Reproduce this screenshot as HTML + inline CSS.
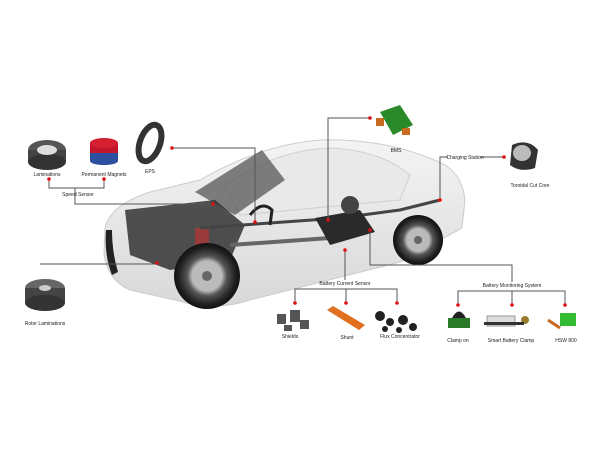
<!DOCTYPE html>
<html><head><style>body{margin:0;background:#fff}svg{display:block}text{font-family:"Liberation Sans",sans-serif;font-size:5px;fill:#222;text-anchor:middle}</style></head><body>
<svg width="600" height="450" viewBox="0 0 600 450">
<defs>
<linearGradient id="body" x1="0" y1="0" x2="0" y2="1"><stop offset="0" stop-color="#f4f4f4"/><stop offset="1" stop-color="#d8d8d8"/></linearGradient>
<radialGradient id="wh"><stop offset="0.45" stop-color="#bbb"/><stop offset="0.6" stop-color="#555"/><stop offset="0.85" stop-color="#222"/><stop offset="1" stop-color="#111"/></radialGradient>
</defs>
<!-- car body -->
<path d="M105,228 Q110,205 150,192 L200,180 Q260,145 320,140 Q390,138 445,165 Q462,175 465,200 L462,228 L440,240 Q420,255 400,262 L250,300 Q215,312 175,300 L130,290 Q108,280 104,255 Z" fill="url(#body)" stroke="#ccc"/>
<path d="M225,185 Q275,150 330,148 Q380,150 410,175 L400,200 L240,215 Z" fill="#e9e9e9" stroke="#d0d0d0"/>
<path d="M195,192 L262,150 L285,180 L235,215 Z" fill="#555" opacity="0.75"/>
<path d="M106,230 Q104,255 112,275 L118,272 Q112,252 112,230Z" fill="#222"/>
<!-- engine -->
<path d="M125,210 L215,200 L245,225 L230,260 L170,270 L130,255 Z" fill="#333" opacity="0.85"/>
<rect x="195" y="228" width="14" height="25" fill="#b33" opacity="0.7"/>
<path d="M200,228 L340,218 L400,210 L440,200" stroke="#444" stroke-width="3" fill="none"/>
<path d="M230,245 L330,238" stroke="#666" stroke-width="4"/>
<!-- battery -->
<path d="M315,218 L360,210 L375,232 L330,245 Z" fill="#2a2a2a"/>
<circle cx="350" cy="205" r="9" fill="#444"/>
<path d="M250,215 Q262,200 272,210 L270,225" stroke="#222" stroke-width="3" fill="none"/>
<!-- wheels -->
<circle cx="207" cy="276" r="33" fill="url(#wh)"/>
<circle cx="207" cy="276" r="5" fill="#666"/>
<circle cx="418" cy="240" r="25" fill="url(#wh)"/>
<circle cx="418" cy="240" r="4" fill="#666"/>
<!-- connector lines -->
<g stroke="#555" stroke-width="1" fill="none">
<path d="M172,148 H255 V222"/>
<path d="M49,179 V188 H104 V179"/>
<path d="M75,188 V204 H213"/>
<path d="M40,264 H157"/>
<path d="M370,118 H328 V220"/>
<path d="M440,200 V157 H448"/>
<path d="M480,157 H504"/>
<path d="M345,250 V280"/>
<path d="M295,303 V289 H397 V303 M346,289 V303"/>
<path d="M370,230 V265 H512 V282"/>
<path d="M458,305 V291 H565 V305 M512,291 V305"/>
</g>
<g fill="#e01010">
<circle cx="172" cy="148" r="1.8"/><circle cx="49" cy="179" r="1.8"/><circle cx="104" cy="179" r="1.8"/><circle cx="213" cy="204" r="1.8"/>
<circle cx="157" cy="263" r="1.8"/><circle cx="255" cy="222" r="1.8"/><circle cx="370" cy="118" r="1.8"/><circle cx="328" cy="220" r="1.8"/>
<circle cx="440" cy="200" r="1.8"/><circle cx="504" cy="157" r="1.8"/><circle cx="345" cy="250" r="1.8"/><circle cx="370" cy="230" r="1.8"/>
<circle cx="295" cy="303" r="1.8"/><circle cx="346" cy="303" r="1.8"/><circle cx="397" cy="303" r="1.8"/>
<circle cx="458" cy="305" r="1.8"/><circle cx="512" cy="305" r="1.8"/><circle cx="565" cy="305" r="1.8"/>
</g>
<!-- parts -->
<ellipse cx="47" cy="150" rx="19" ry="10" fill="#555"/><rect x="28" y="150" width="38" height="12" fill="#444"/><ellipse cx="47" cy="162" rx="19" ry="8" fill="#333"/><ellipse cx="47" cy="150" rx="10" ry="5" fill="#ddd"/>
<rect x="90" y="143" width="28" height="18" fill="#2c4fa0"/><rect x="90" y="143" width="28" height="10" fill="#c0182a"/><ellipse cx="104" cy="143" rx="14" ry="5" fill="#d42030"/><ellipse cx="104" cy="161" rx="14" ry="4" fill="#2c4fa0"/>
<ellipse cx="150" cy="143" rx="10" ry="19" fill="none" stroke="#333" stroke-width="6" transform="rotate(20 150 143)"/>
<text x="47" y="176">Laminations</text><text x="104" y="176">Permanent Magnets</text><text x="150" y="173">EPS</text><text x="78" y="196">Speed Sensor</text>
<path d="M380,112 L400,105 L413,125 L393,135 Z" fill="#2a8a2a"/><rect x="376" y="118" width="8" height="8" fill="#c96a20"/><rect x="402" y="128" width="8" height="7" fill="#c96a20"/>
<text x="396" y="152">BMS</text>
<text x="465" y="159">Charging Station</text>
<path d="M512,145 Q528,138 538,150 L535,168 Q520,173 510,165 Z" fill="#333"/><ellipse cx="522" cy="153" rx="9" ry="8" fill="#bbb"/>
<text x="530" y="187">Toroidal Cut Core</text>
<ellipse cx="45" cy="288" rx="20" ry="9" fill="#666"/><rect x="25" y="288" width="40" height="15" fill="#444"/><ellipse cx="45" cy="303" rx="20" ry="8" fill="#333"/><ellipse cx="45" cy="288" rx="6" ry="3" fill="#ccc"/>
<text x="45" y="325">Rotor Laminations</text>
<text x="345" y="285">Battery Current Sensor</text>
<g fill="#555"><rect x="277" y="314" width="9" height="10"/><rect x="290" y="310" width="10" height="12"/><rect x="300" y="320" width="9" height="9"/><rect x="284" y="325" width="8" height="6"/></g>
<path d="M327,310 L333,306 L365,325 L359,330 Z" fill="#e07020"/>
<g fill="#222"><circle cx="380" cy="316" r="5"/><circle cx="390" cy="322" r="4"/><circle cx="403" cy="320" r="5"/><circle cx="413" cy="327" r="4"/><circle cx="385" cy="329" r="3"/><circle cx="399" cy="330" r="3"/></g>
<text x="290" y="338">Shields</text><text x="347" y="339">Shunt</text><text x="400" y="338">Flux Concentrator</text>
<text x="512" y="287">Battery Monitoring System</text>
<rect x="448" y="318" width="22" height="10" fill="#2a7a2a"/><path d="M452,318 Q459,305 466,318Z" fill="#222"/>
<rect x="487" y="316" width="28" height="10" fill="#ddd" stroke="#999"/><circle cx="525" cy="320" r="4" fill="#9a7a30"/><rect x="484" y="322" width="40" height="3" fill="#333"/>
<path d="M548,320 L560,328" stroke="#c96a20" stroke-width="3"/><rect x="560" y="313" width="16" height="13" fill="#33bb33"/>
<text x="458" y="342">Clamp on</text><text x="511" y="342">Smart Battery Clamp</text><text x="566" y="342">HSW 800</text>
</svg>
</body></html>
